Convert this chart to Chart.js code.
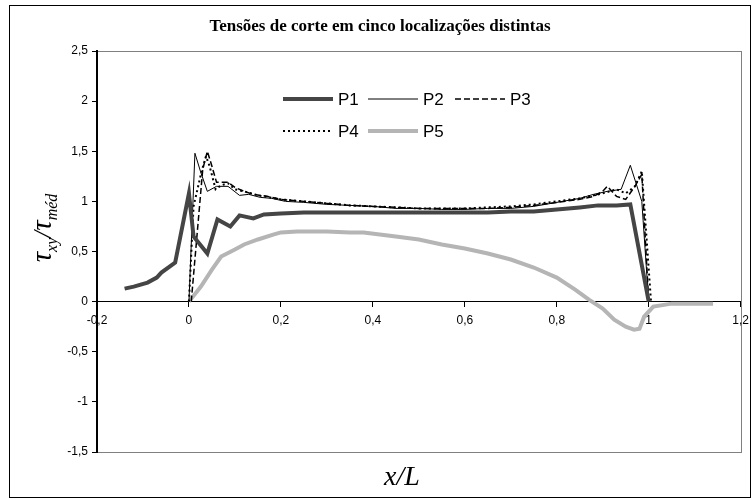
<!DOCTYPE html>
<html>
<head>
<meta charset="utf-8">
<script src="https://cdn.jsdelivr.net/npm/chart.js@4.4.1/dist/chart.umd.min.js"></script>
<style>
  html, body { margin: 0; padding: 0; background: #fff; }
  #wrap { width: 756px; height: 501px; }
</style>
</head>
<body>
<div id="wrap"><canvas id="shearChart" width="756" height="501"></canvas></div>
<script>
// values (x/L vs tau_xy/tau_med)
const p1X = [-0.14, -0.12, -0.09, -0.07, -0.06, -0.03, 0, 0.01, 0.04, 0.062, 0.09, 0.11, 0.14, 0.163, 0.2, 0.25, 0.3, 0.35, 0.4, 0.45, 0.5, 0.55, 0.6, 0.65, 0.7, 0.75, 0.8, 0.85, 0.89, 0.93, 0.96, 1.0];
const p1Y = [0.13, 0.15, 0.19, 0.24, 0.29, 0.39, 1.08, 0.65, 0.48, 0.82, 0.75, 0.86, 0.83, 0.87, 0.88, 0.89, 0.89, 0.89, 0.89, 0.89, 0.89, 0.89, 0.89, 0.89, 0.9, 0.9, 0.92, 0.94, 0.96, 0.96, 0.97, 0];

const p2X = [0, 0.013, 0.025, 0.04, 0.06, 0.085, 0.11, 0.13, 0.155, 0.18, 0.21, 0.25, 0.3, 0.35, 0.4, 0.45, 0.5, 0.55, 0.6, 0.65, 0.7, 0.75, 0.8, 0.85, 0.88, 0.91, 0.94, 0.96, 0.985, 1.0];
const p2Y = [0, 1.48, 1.3, 1.1, 1.15, 1.15, 1.06, 1.07, 1.04, 1.03, 1.0, 0.99, 0.97, 0.96, 0.95, 0.93, 0.93, 0.92, 0.92, 0.93, 0.93, 0.95, 0.99, 1.03, 1.07, 1.1, 1.12, 1.36, 1.0, 0];

const p3X = [0.005, 0.03, 0.04, 0.05, 0.06, 0.085, 0.1, 0.12, 0.14, 0.17, 0.2, 0.25, 0.3, 0.35, 0.4, 0.45, 0.5, 0.55, 0.6, 0.65, 0.7, 0.75, 0.8, 0.85, 0.88, 0.9, 0.91, 0.93, 0.95, 0.97, 0.985, 1.0];
const p3Y = [0, 1.32, 1.5, 1.35, 1.19, 1.19, 1.14, 1.1, 1.07, 1.05, 1.02, 1.0, 0.98, 0.96, 0.95, 0.94, 0.93, 0.93, 0.93, 0.93, 0.94, 0.96, 0.99, 1.02, 1.05, 1.1, 1.15, 1.05, 1.02, 1.15, 1.27, 0];

const p4X = [0, 0.01, 0.027, 0.037, 0.045, 0.058, 0.07, 0.085, 0.1, 0.12, 0.15, 0.2, 0.25, 0.3, 0.35, 0.4, 0.45, 0.5, 0.55, 0.6, 0.65, 0.7, 0.75, 0.8, 0.85, 0.9, 0.93, 0.95, 0.97, 0.985, 1.005];
const p4Y = [0, 0.95, 1.29, 1.45, 1.35, 1.12, 1.16, 1.18, 1.12, 1.1, 1.06, 1.02, 1.0, 0.98, 0.96, 0.95, 0.94, 0.93, 0.93, 0.93, 0.94, 0.95, 0.97, 1.0, 1.03, 1.08, 1.12, 1.08, 1.15, 1.3, 0];

const p5X = [0, 0.026, 0.05, 0.07, 0.1, 0.12, 0.15, 0.185, 0.2, 0.235, 0.3, 0.35, 0.38, 0.45, 0.5, 0.55, 0.6, 0.65, 0.7, 0.75, 0.8, 0.84, 0.87, 0.9, 0.925, 0.95, 0.968, 0.98, 0.99, 1.01, 1.05, 1.1, 1.14];
const p5Y = [0, 0.15, 0.32, 0.45, 0.52, 0.57, 0.62, 0.67, 0.69, 0.7, 0.7, 0.69, 0.69, 0.65, 0.62, 0.57, 0.53, 0.48, 0.42, 0.34, 0.24, 0.12, 0.02, -0.07, -0.18, -0.25, -0.28, -0.27, -0.15, -0.05, -0.02, -0.02, -0.02];

const seriesNames = ['P1', 'P2', 'P3', 'P4', 'P5'];
const chartTitle = 'Tensões de corte em cinco localizações distintas';

const toPoints = (xs, ys) => xs.map((x, i) => ({ x: x, y: ys[i] }));
const commaNum = v => Number(v.toFixed(1)).toString().replace('.', ',');

// frame, title, axis titles and legend
const decorations = {
  id: 'decorations',
  beforeDraw(chart) {
    const ctx = chart.ctx;
    const a = chart.chartArea;
    ctx.save();
    ctx.fillStyle = '#fff';
    ctx.fillRect(0, 0, chart.width, chart.height);
    ctx.strokeStyle = '#808080';
    ctx.lineWidth = 1;
    ctx.strokeRect(Math.round(a.left) + 0.5, Math.round(a.top) + 0.5, Math.round(a.right - a.left), Math.round(a.bottom - a.top));
    ctx.restore();
  },
  afterDraw(chart) {
    const ctx = chart.ctx;
    ctx.save();
    // outer border
    ctx.strokeStyle = '#000';
    ctx.lineWidth = 1;
    ctx.strokeRect(9.5, 5.5, 741, 492);

    // title
    ctx.fillStyle = '#000';
    ctx.font = 'bold 17px "Liberation Serif"';
    ctx.textAlign = 'center';
    ctx.textBaseline = 'middle';
    ctx.fillText(chartTitle, 380, 27);

    // x axis title
    ctx.font = 'italic 28px "Liberation Serif"';
    ctx.fillText('x/L', 402, 478);

    // y axis title (rotated, with subscripts)
    ctx.translate(43, 228);
    ctx.rotate(-Math.PI / 2);
    const parts = [
      ['τ', 'italic 29px "Liberation Serif"', 0],
      ['xy', 'italic 16px "Liberation Serif"', 6],
      ['/', 'italic 25px "Liberation Serif"', 0],
      ['τ', 'italic 29px "Liberation Serif"', 0],
      ['méd', 'italic 16px "Liberation Serif"', 6]
    ];
    let total = 0;
    parts.forEach(p => { ctx.font = p[1]; total += ctx.measureText(p[0]).width; });
    let px = -total / 2;
    ctx.textAlign = 'left';
    ctx.textBaseline = 'alphabetic';
    parts.forEach(p => {
      ctx.font = p[1];
      ctx.fillText(p[0], px, 8 + p[2]);
      px += ctx.measureText(p[0]).width;
    });
    ctx.setTransform(1, 0, 0, 1, 0, 0);

    // legend, two rows inside the plot
    const slots = [[283, 99], [368, 99], [455, 99], [283, 131], [368, 131]];
    ctx.font = '17px "Liberation Sans"';
    ctx.textBaseline = 'middle';
    chart.data.datasets.forEach((ds, i) => {
      const [lx, ly] = slots[i];
      ctx.strokeStyle = ds.borderColor;
      ctx.lineWidth = ds.borderWidth;
      ctx.setLineDash(ds.borderDash || []);
      ctx.beginPath();
      ctx.moveTo(lx, ly);
      ctx.lineTo(lx + 50, ly);
      ctx.stroke();
      ctx.setLineDash([]);
      ctx.fillStyle = '#000';
      ctx.fillText(ds.label, lx + 55, ly + 1);
    });
    ctx.restore();
  }
};

const ctx = document.getElementById('shearChart').getContext('2d');
new Chart(ctx, {
  type: 'scatter',
  data: {
    datasets: [
      { label: seriesNames[0], data: toPoints(p1X, p1Y), borderColor: '#454545', borderWidth: 4 },
      { label: seriesNames[1], data: toPoints(p2X, p2Y), borderColor: '#000', borderWidth: 1 },
      { label: seriesNames[2], data: toPoints(p3X, p3Y), borderColor: '#000', borderWidth: 1.5, borderDash: [6, 3] },
      { label: seriesNames[3], data: toPoints(p4X, p4Y), borderColor: '#000', borderWidth: 2, borderDash: [2, 3] },
      { label: seriesNames[4], data: toPoints(p5X, p5Y), borderColor: '#b5b5b5', borderWidth: 4 }
    ].map(ds => Object.assign(ds, { showLine: true, pointRadius: 0, tension: 0, fill: false }))
  },
  options: {
    responsive: false,
    animation: false,
    layout: { padding: { left: 0, top: 51, right: 9, bottom: 49 } },
    plugins: { legend: { display: false }, title: { display: false }, tooltip: { enabled: false } },
    scales: {
      x: {
        type: 'linear',
        min: -0.2,
        max: 1.2,
        position: { y: 0 },
        afterFit: s => { s.height = 0; },
        ticks: { stepSize: 0.2, color: '#000', font: { family: 'Liberation Sans', size: 12 }, padding: 7, maxRotation: 0, callback: v => commaNum(v) },
        grid: { drawOnChartArea: false, drawTicks: true, tickLength: 5, color: '#000' },
        border: { display: true, color: '#000', width: 1 }
      },
      y: {
        type: 'linear',
        min: -1.5,
        max: 2.5,
        afterFit: s => { s.width = 97; },
        ticks: { stepSize: 0.5, color: '#000', font: { family: 'Liberation Sans', size: 12 }, padding: 4, callback: v => commaNum(v) },
        grid: { drawOnChartArea: false, drawTicks: true, tickLength: 5, color: '#000' },
        border: { display: true, color: '#000', width: 2 }
      }
    }
  },
  plugins: [decorations]
});
</script>
</body>
</html>
